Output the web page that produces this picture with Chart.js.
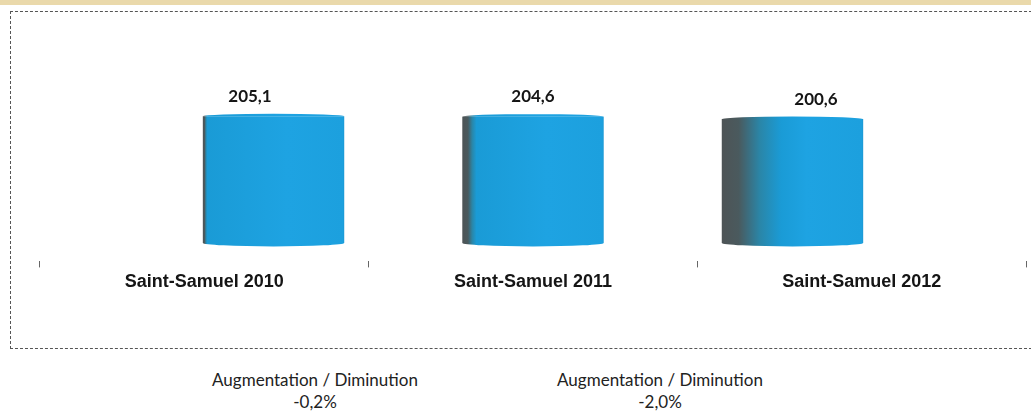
<!DOCTYPE html>
<html>
<head>
<meta charset="utf-8">
<script src="https://cdn.jsdelivr.net/npm/chart.js@4/dist/chart.umd.min.js"></script>
<style>
  html, body { margin: 0; padding: 0; background: #ffffff; }
  body { width: 1031px; height: 411px; overflow: hidden; position: relative; }
  #strip { position: absolute; left: 0; top: 0; width: 1031px; height: 5px; background: #ead9ab; }
  #frame { position: absolute; left: 10px; top: 11px; width: 1040px; height: 336px; border: 1px dashed #555; }
  #wrap { position: absolute; left: 0; top: 0; width: 1031px; height: 300px; }
  .note { position: absolute; width: 300px; text-align: center; font-family: Lato, "Open Sans", sans-serif; font-size: 17px; color: #222; line-height: 22px; }
</style>
</head>
<body>
<div id="strip"></div>
<div id="frame"></div>
<div id="wrap"><canvas id="c" width="1031" height="300"></canvas></div>
<div class="note" id="n1" style="left:165px; top:369px;"></div>
<div class="note" id="n2" style="left:510px; top:369px;"></div>
<script>
const categories = ['Saint-Samuel 2010', 'Saint-Samuel 2011', 'Saint-Samuel 2012'];
const values = [205.1, 204.6, 200.6];
const valueLabels = ['205,1', '204,6', '200,6'];
const changeTitle = 'Augmentation / Diminution';
const changeLabels = ['-0,2%', '-2,0%'];

// style only: how much of each cylinder's left side is in shadow (3D perspective)
const shadeShare = [0.012, 0.04, 0.12];
const shadeBlend = [0.02, 0.06, 0.3];
const BAR_PCT = 0.545;

document.getElementById('n1').innerHTML = changeTitle + '<br>' + changeLabels[0];
document.getElementById('n2').innerHTML = changeTitle + '<br>' + changeLabels[1];

function barGradient(c) {
  const chart = c.chart;
  if (!chart.chartArea || c.type !== 'data') return '#1d9fdd';
  const xs = chart.scales.xb;
  const cx = xs.getPixelForValue(c.parsed.x);
  const half = (xs.getPixelForValue(1) - xs.getPixelForValue(0)) * BAR_PCT / 2;
  const g = chart.ctx.createLinearGradient(cx - half, 0, cx + half, 0);
  const i = c.dataIndex;
  g.addColorStop(0, '#4e5456');
  g.addColorStop(shadeShare[i], '#4a5a5e');
  g.addColorStop(shadeShare[i] + shadeBlend[i] * 0.5, '#2a86a8');
  g.addColorStop(shadeShare[i] + shadeBlend[i], '#1a9bd6');
  g.addColorStop(0.6, '#1ea3e2');
  g.addColorStop(0.99, '#1ca0de');
  g.addColorStop(1, '#1b97d2');
  return g;
}

const cylinderCaps = {
  id: 'cylinderCaps',
  afterDatasetsDraw(chart) {
    const ctx = chart.ctx;
    const meta = chart.getDatasetMeta(0);
    const band = chart.scales.x;
    meta.data.forEach((el, i) => {
      const w = el.width;
      ctx.save();
      ctx.fillStyle = el.options.backgroundColor;
      ctx.beginPath();
      ctx.ellipse(el.x, el.y, w / 2, 2.5, 0, Math.PI, 2 * Math.PI);
      ctx.fill();
      ctx.beginPath();
      ctx.ellipse(el.x, el.base, w / 2, 3.5, 0, 0, Math.PI);
      ctx.fill();
      ctx.restore();
      // value label, shifted toward the category centre (perspective)
      const bx = band.getPixelForValue(i);
      const lx = el.x + 0.34 * (bx - el.x);
      ctx.save();
      ctx.font = 'bold 17px Lato, "Open Sans", sans-serif';
      ctx.fillStyle = '#151515';
      ctx.textAlign = 'center';
      ctx.textBaseline = 'middle';
      ctx.fillText(valueLabels[i], lx, el.y - 20);
      ctx.restore();
    });
  }
};

new Chart(document.getElementById('c'), {
  type: 'bar',
  data: {
    labels: categories,
    datasets: [{
      data: values.map((v, i) => ({ x: i, y: v })),
      xAxisID: 'xb',
      yAxisID: 'y',
      backgroundColor: barGradient,
      borderWidth: 0,
      barPercentage: BAR_PCT,
      categoryPercentage: 1
    }]
  },
  options: {
    responsive: false,
    animation: false,
    events: [],
    layout: { padding: { left: 40, right: 5, top: 88, bottom: 3 } },
    plugins: { legend: { display: false }, tooltip: { enabled: false } },
    scales: {
      xb: {
        type: 'linear', display: false, min: -0.9, max: 2.9, offset: false,
        grid: { offset: false },
        afterBuildTicks: (s) => { s.ticks = categories.map((_, i) => ({ value: i })); }
      },
      x: {
        type: 'category',
        position: 'bottom',
        offset: true,
        border: { display: false },
        grid: { drawOnChartArea: false, drawTicks: true, tickLength: 6, color: '#666', offset: true },
        ticks: { color: '#151515', padding: 4, font: { family: '"Liberation Sans", Arial, sans-serif', size: 18, weight: 'bold' } }
      },
      y: { type: 'linear', display: false, min: -30, max: 251 }
    }
  },
  plugins: [cylinderCaps]
});
</script>
</body>
</html>
